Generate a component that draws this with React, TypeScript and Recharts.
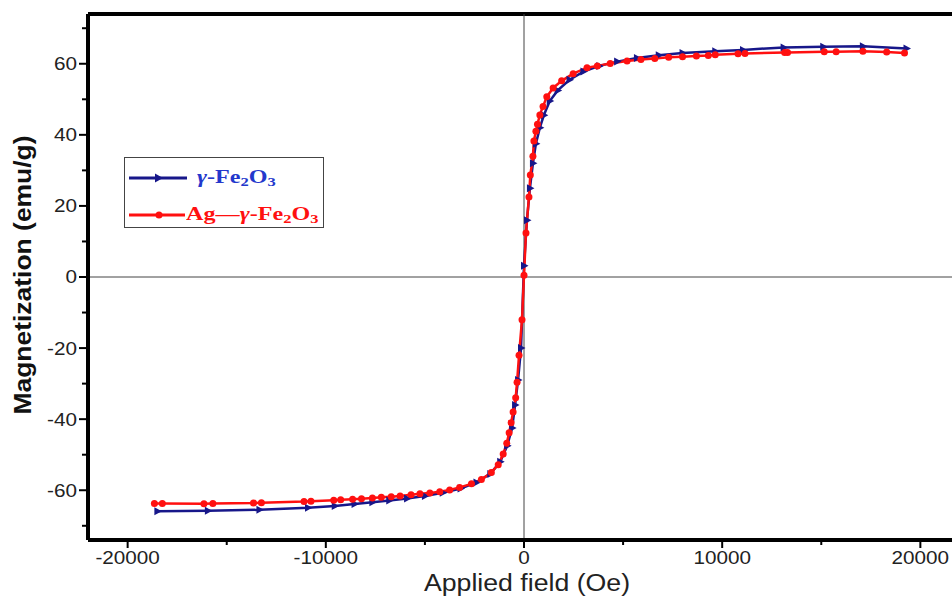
import React from 'react';
import { LineChart, Line, XAxis, YAxis, ReferenceLine } from 'recharts';

// Ag–γ-Fe2O3 (red, circles)
const agField = [
  -18650, -18250, -16150, -15700, -13650, -13250, -11100, -10750, -9600, -9250,
  -8650, -8200, -7650, -7200, -6700, -6250, -5700, -5250, -4750, -4250,
  -3750, -3250, -2650, -2150, -1650, -1300, -1050, -870, -750, -650,
  -550, -420, -350, -250, -100, 0, 100, 250, 320, 450,
  500, 600, 680, 800, 960, 1150, 1470, 1900, 2480, 3180,
  3700, 4350, 5200, 5900, 6600, 7300, 8000, 8700, 9300, 9650,
  10800, 11150, 13150, 13300, 15150, 15750, 17100, 18300, 19200,
];
const agMag = [
  -63.7, -63.7, -63.8, -63.7, -63.6, -63.5, -63.2, -63.1, -62.8, -62.7,
  -62.5, -62.4, -62.2, -62.0, -61.8, -61.6, -61.3, -61.0, -60.8, -60.4,
  -59.9, -59.2, -58.2, -57.0, -55.0, -52.8, -49.8, -46.8, -43.8, -41.0,
  -38.0, -34.0, -29.6, -22.0, -12.0, 0.5, 12.4, 22.5, 28.7, 34.0,
  38.3, 41.0, 43.0, 45.6, 48.0, 50.7, 53.2, 55.2, 57.2, 58.9,
  59.4, 60.1, 60.8, 61.2, 61.5, 61.8, 62.0, 62.2, 62.3, 62.5,
  62.8, 62.9, 63.2, 63.2, 63.4, 63.4, 63.5, 63.3, 63.0,
];

// γ-Fe2O3 (navy, triangles)
const feField = [
  -18500, -15950, -13350, -10900, -9550, -8550, -7650, -6800, -5900, -5000,
  -4100, -3200, -2400, -1700, -1200, -850, -600, -450, -300, -150,
  0, 150, 300, 450, 600, 800, 1000, 1300, 1700, 2300,
  3000, 3800, 4700, 5700, 6800, 8000, 9650, 11050, 13100, 15100,
  17100, 19300,
];
const feMag = [
  -65.9, -65.8, -65.5, -64.9, -64.4, -63.9, -63.4, -62.9, -62.3, -61.6,
  -60.7, -59.5, -57.8, -55.4, -52.0, -47.5, -42.5, -36.0, -29.0, -20.0,
  3.2, 16.0, 25.0, 32.0, 37.5, 42.0, 45.5, 49.5, 52.5, 55.5,
  57.8, 59.4, 60.6, 61.6, 62.4, 63.0, 63.5, 63.9, 64.6, 64.8,
  64.9, 64.3,
];

const xTicks = [-20000, -15000, -10000, -5000, 0, 5000, 10000, 15000, 20000];
const yTicks = [-70, -60, -50, -40, -30, -20, -10, 0, 10, 20, 30, 40, 50, 60, 70];

const agData = agField.map((x, i) => ({ x, y: agMag[i] }));
const feData = feField.map((x, i) => ({ x, y: feMag[i] }));

const NAVY = '#17178a';
const RED = '#ff1010';
const SANS = '"Liberation Sans", Arial, sans-serif';
const SERIF = '"Liberation Serif", "Times New Roman", serif';
// the source figure is stretched sideways a little, text included
const STRETCH = 1.15;

const YTick = (props: any) => {
  const { x, y, payload } = props;
  const major = payload.value % 20 === 0;
  return (
    <g>
      <line x1={x} x2={x - (major ? 9 : 6)} y1={y} y2={y} stroke="#000" strokeWidth={2} />
      {major && (
        <text transform={`translate(${x - 11},${y}) scale(${STRETCH},1)`} textAnchor="end"
          dominantBaseline="central" fontSize={18} fontFamily={SANS} fill="#222">
          {payload.value}
        </text>
      )}
    </g>
  );
};

const XTick = (props: any) => {
  const { x, y, payload } = props;
  const major = payload.value % 10000 === 0;
  return (
    <g>
      <line x1={x} x2={x} y1={y} y2={y + (major ? 8 : 5)} stroke="#000" strokeWidth={2} />
      {major && (
        <text transform={`translate(${x},${y + 18}) scale(${STRETCH},1)`} textAnchor="middle"
          dominantBaseline="central" fontSize={18} fontFamily={SANS} fill="#222">
          {payload.value}
        </text>
      )}
    </g>
  );
};

const Triangle = (props: any) => {
  const { cx, cy, index } = props;
  if (cx == null || cy == null) return <g key={index} />;
  return (
    <polygon key={index} fill={NAVY}
      points={`${cx + 4.5},${cy} ${cx - 3},${cy - 4} ${cx - 3},${cy + 4}`} />
  );
};

const Sub = ({ children }: { children: React.ReactNode }) => (
  <span style={{ fontSize: 13, verticalAlign: -3 }}>{children}</span>
);

const legendText = {
  display: 'inline-block', transform: 'scaleX(1.27)', transformOrigin: 'left center',
  whiteSpace: 'nowrap' as const,
};

const LegendBox = () => (
  <div style={{
    position: 'absolute', left: 124, top: 157, width: 200, height: 71,
    border: '1.5px solid #444', boxSizing: 'border-box', background: '#fff',
    fontFamily: SERIF, fontWeight: 'bold', fontSize: 19, lineHeight: 1,
  }}>
    <div style={{ position: 'absolute', left: 4, top: 9, display: 'flex', alignItems: 'center' }}>
      <svg width={60} height={12}>
        <line x1={0} x2={58} y1={6} y2={6} stroke={NAVY} strokeWidth={3} />
        <polygon fill={NAVY} points="34,6 26,1.5 26,10.5" />
      </svg>
      <span style={{ ...legendText, color: '#2438cc', marginLeft: 8 }}>
        <i>γ</i>-Fe<Sub>2</Sub>O<Sub>3</Sub>
      </span>
    </div>
    <div style={{ position: 'absolute', left: 4, top: 46, display: 'flex', alignItems: 'center' }}>
      <svg width={56} height={12}>
        <line x1={0} x2={56} y1={6} y2={6} stroke={RED} strokeWidth={3} />
        <circle cx={30} cy={6} r={3.5} fill={RED} />
      </svg>
      <span style={{ ...legendText, color: RED, marginLeft: 1 }}>
        Ag—<i>γ</i>-Fe<Sub>2</Sub>O<Sub>3</Sub>
      </span>
    </div>
  </div>
);

export default function App() {
  return (
    <div style={{
      position: 'absolute', left: 0, top: 0, width: 952, height: 596,
      overflow: 'hidden', background: '#fff',
    }}>
      <LineChart width={980} height={596} margin={{ top: 14, right: 20, left: 0, bottom: 0 }}>
        <XAxis type="number" dataKey="x" domain={[-22000, 22000]} ticks={xTicks}
          allowDataOverflow interval={0} height={56} tickSize={0} tickMargin={0}
          tick={<XTick />} axisLine={{ stroke: '#000', strokeWidth: 4 }} />
        <YAxis type="number" dataKey="y" domain={[-74, 74]} ticks={yTicks}
          allowDataOverflow interval={0} width={88} tickSize={0} tickMargin={0}
          tick={<YTick />} axisLine={{ stroke: '#000', strokeWidth: 4 }} />
        <ReferenceLine y={74} stroke="#000" strokeWidth={4} />
        <ReferenceLine x={0} stroke="#444" strokeWidth={1} />
        <ReferenceLine y={0} stroke="#444" strokeWidth={1} />
        <Line data={feData} dataKey="y" type="linear" stroke={NAVY} strokeWidth={2.5}
          dot={Triangle} isAnimationActive={false} />
        <Line data={agData} dataKey="y" type="linear" stroke={RED} strokeWidth={2.5}
          dot={{ r: 3.5, fill: RED, stroke: RED, strokeWidth: 0 }} isAnimationActive={false} />
      </LineChart>
      <LegendBox />
      <div style={{
        position: 'absolute', left: 23, top: 275,
        transform: 'translate(-50%, -50%) rotate(-90deg) scaleX(1.15)',
        whiteSpace: 'nowrap', fontFamily: SANS, fontWeight: 'bold', fontSize: 23, color: '#111',
      }}>
        Magnetization (emu/g)
      </div>
      <div style={{
        position: 'absolute', left: 527, top: 583, transform: 'translate(-50%, -50%) scaleX(1.16)',
        whiteSpace: 'nowrap', fontFamily: SANS, fontSize: 23, color: '#222',
      }}>
        Applied field (Oe)
      </div>
    </div>
  );
}
